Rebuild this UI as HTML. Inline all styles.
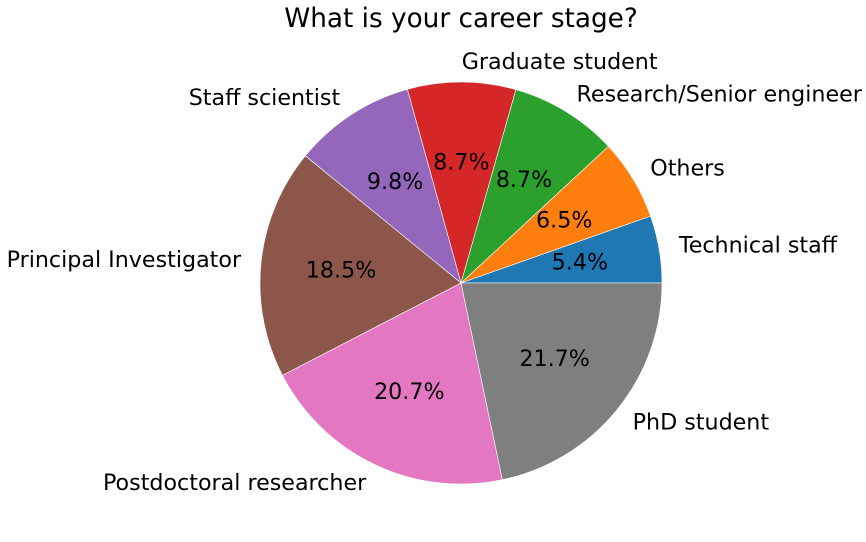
<!DOCTYPE html>
<html><head><meta charset="utf-8"><style>
body{margin:0;background:#fff;}
svg{display:block;font-family:"DejaVu Sans","Liberation Sans",sans-serif;}
</style></head><body>
<svg id="chart" width="866" height="542" viewBox="0 0 866 542">
<text x="461" y="27" font-size="26.3" text-anchor="middle">What is your career stage?</text>
<g id="slices"></g>
</svg>
<script>
const categories = ["Technical staff","Others","Research/Senior engineer","Graduate student","Staff scientist","Principal Investigator","Postdoctoral researcher","PhD student"];
const values = [5.4, 6.5, 8.7, 8.7, 9.8, 18.5, 20.7, 21.7];
const colors = ["#1f77b4","#ff7f0e","#2ca02c","#d62728","#9467bd","#8c564b","#e377c2","#7f7f7f"];
const cx = 461, cy = 283, R = 201;
const g = document.getElementById('slices');
const NS = "http://www.w3.org/2000/svg";
const total = values.reduce((a,b)=>a+b,0);
let a0 = 0;
function pt(a, r){ return [cx + r*Math.cos(a), cy - r*Math.sin(a)]; }
values.forEach((v,i)=>{
  const a1 = a0 + v/total*2*Math.PI;
  const [x0,y0] = pt(a0,R), [x1,y1] = pt(a1,R);
  const large = (a1-a0) > Math.PI ? 1 : 0;
  const p = document.createElementNS(NS,'path');
  p.setAttribute('d', `M${cx},${cy} L${x0},${y0} A${R},${R} 0 ${large} 0 ${x1},${y1} Z`);
  p.setAttribute('fill', colors[i]);
  p.setAttribute('stroke', '#fff');
  p.setAttribute('stroke-width', '0.6');
  
  
  g.appendChild(p);
  const am = (a0+a1)/2;
  const [lx,ly] = pt(am, R*1.1);
  const t = document.createElementNS(NS,'text');
  t.setAttribute('x', lx); t.setAttribute('y', ly);
  t.setAttribute('font-size', '22.2');
  t.setAttribute('dominant-baseline', 'central');
  t.setAttribute('text-anchor', Math.cos(am) >= 0 ? 'start' : 'end');
  t.textContent = categories[i];
  
  
  g.appendChild(t);
  const [px,py] = pt(am, R*0.6);
  const t2 = document.createElementNS(NS,'text');
  t2.setAttribute('x', px); t2.setAttribute('y', py);
  t2.setAttribute('font-size', '22.2');
  t2.setAttribute('dominant-baseline', 'central');
  t2.setAttribute('text-anchor', 'middle');
  t2.textContent = (v/total*100).toFixed(1) + '%';
  
  
  g.appendChild(t2);
  a0 = a1;
});
</script>
</body></html>
